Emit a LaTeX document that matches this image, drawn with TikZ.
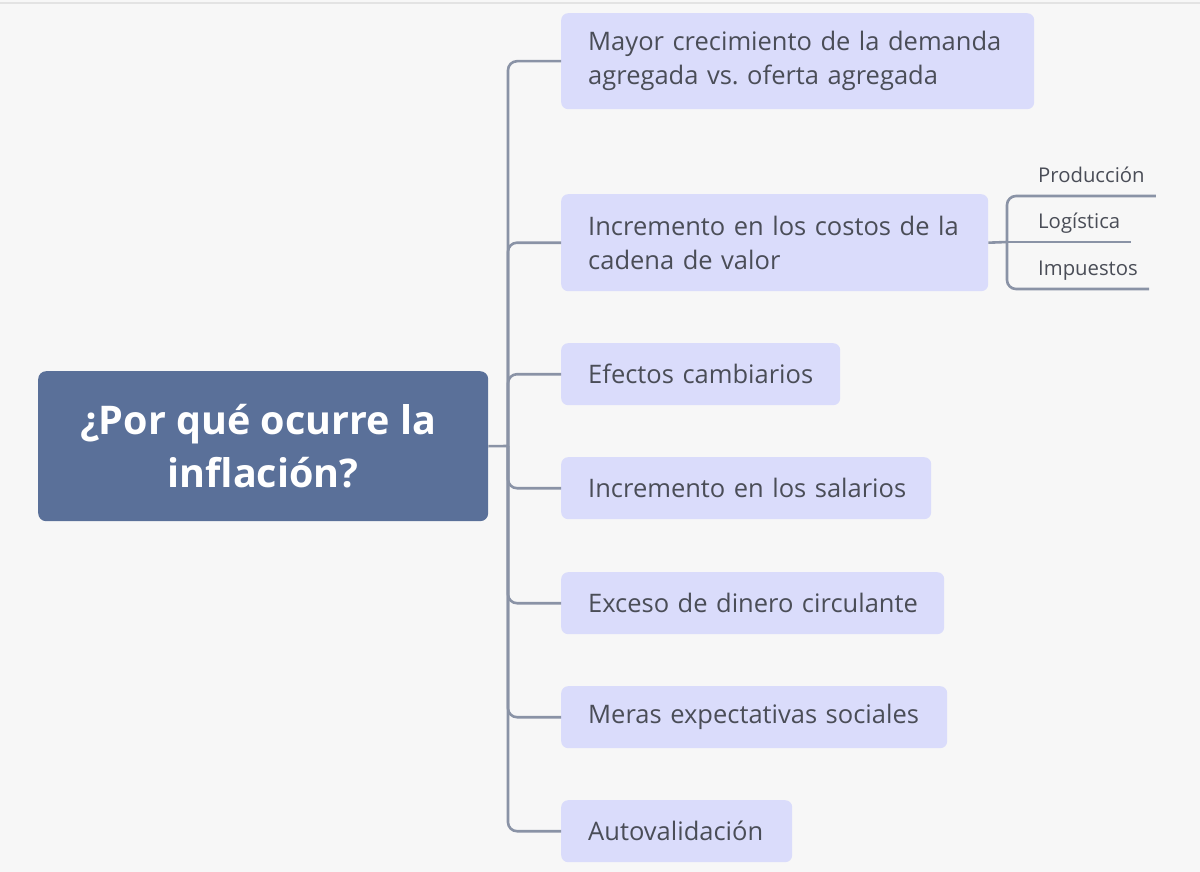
\documentclass[tikz,border=0pt]{standalone}
\usepackage{fontspec}
\setmainfont{Open Sans}
\frenchspacing
\definecolor{bgc}{HTML}{F7F7F7}
\definecolor{rootc}{HTML}{5A7099}
\definecolor{childc}{HTML}{DADCFB}
\definecolor{txtc}{HTML}{4A4D57}
\definecolor{linec}{HTML}{8A93A6}
\definecolor{topc}{HTML}{E3E3E3}
\begin{document}
\begin{tikzpicture}[x=1pt,y=-1pt,
  rootbox/.style={fill=rootc, rounded corners=8pt, minimum width=450pt, minimum height=150pt,
    anchor=north west, text=white, font=\fontsize{39.5}{53}\selectfont\bfseries, align=center, inner sep=0pt},
  childbox/.style={fill=childc, rounded corners=7pt, anchor=north west, text=txtc,
    font=\fontsize{25.5}{34}\selectfont, align=left, inner xsep=27pt, inner ysep=0pt},
  subnode/.style={anchor=south west, text=txtc, font=\fontsize{20.3}{24}\selectfont,
    inner xsep=11pt, inner ysep=8pt, text height=15pt, text depth=5pt},
  conn/.style={draw=linec, line width=2.6pt, rounded corners=9pt}]
\useasboundingbox (0,0) rectangle (1200,872);
\fill[bgc] (0,0) rectangle (1200,872);
\draw[topc, line width=1.5pt] (0,3) -- (1200,3);

\node[rootbox] (root) at (38,371) {¿Por qué ocurre la\hspace*{10pt}\\inflación?};

\node[childbox, minimum width=473pt, minimum height=96pt, text width=419pt] (c1) at (561,13)
  {\mbox{Mayor crecimiento de la demanda}\\\mbox{agregada vs. oferta agregada}};
\node[childbox, minimum width=427pt, minimum height=97pt, text width=373pt] (c2) at (561,194)
  {\mbox{Incremento en los costos de la}\\\mbox{cadena de valor}};
\node[childbox, minimum width=279pt, minimum height=62pt, text width=225pt] (c3) at (561,343)
  {\mbox{Efectos cambiarios}};
\node[childbox, minimum width=370pt, minimum height=62pt, text width=316pt] (c4) at (561,457)
  {\mbox{Incremento en los salarios}};
\node[childbox, minimum width=383pt, minimum height=62pt, text width=329pt] (c5) at (561,572)
  {\mbox{Exceso de dinero circulante}};
\node[childbox, minimum width=386pt, minimum height=62pt, text width=332pt] (c6) at (561,686)
  {\mbox{Meras expectativas sociales}};
\node[childbox, minimum width=231pt, minimum height=62pt, text width=177pt] (c7) at (561,800)
  {\mbox{Autovalidación}};

\coordinate (J) at (508,446);
\draw[conn] (root.east) -- (J);
\foreach \c in {c1,c2,c3,c4,c5,c6,c7} {\draw[conn] (J) |- (\c.west);}

\node[subnode] (s1) at (1027,196) {Producción};
\node[subnode] (s2) at (1027,242) {Logística};
\node[subnode] (s3) at (1027,289) {Impuestos};
\coordinate (J2) at (1007,242);
\draw[conn] (c2.east) -- (J2);
\draw[conn] (J2) |- (s1.south east);
\draw[conn] (J2) -- (s2.south east);
\draw[conn] (J2) |- (s3.south east);
\end{tikzpicture}
\end{document}
